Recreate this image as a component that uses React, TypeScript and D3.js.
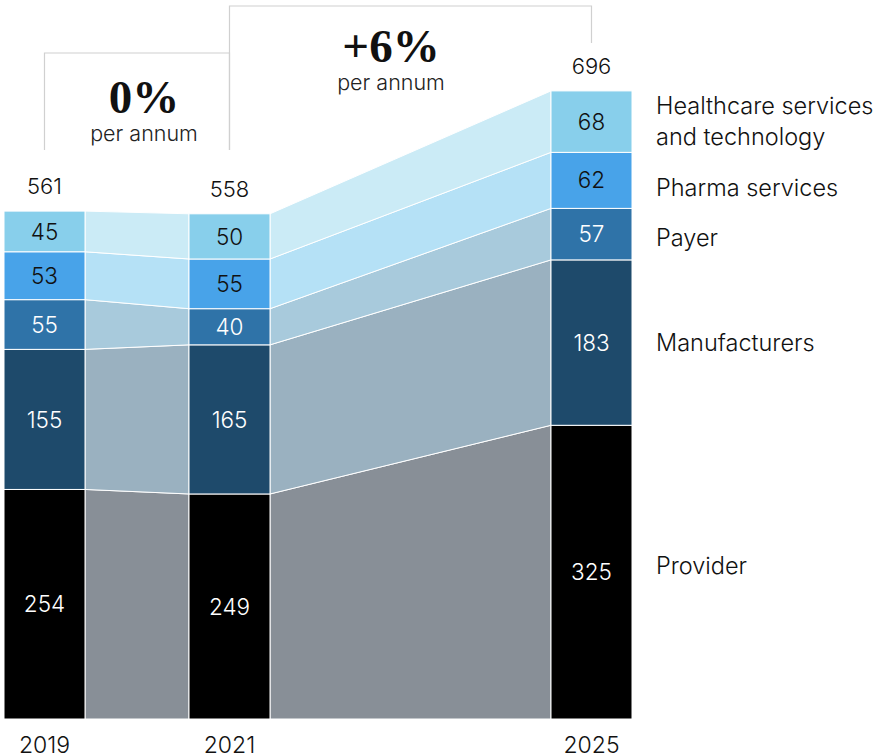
import React from 'react';
import * as d3 from 'd3';

const years = [2019, 2021, 2025];
const segments = ['Provider', 'Manufacturers', 'Payer', 'Pharma services', 'Healthcare services and technology'];
const provider = [254, 249, 325];
const manufacturers = [155, 165, 183];
const payer = [55, 40, 57];
const pharma = [53, 55, 62];
const healthcare = [45, 50, 68];
const totals = [561, 558, 696];
const growth = [
  { from: 2019, to: 2021, label: '0%' },
  { from: 2021, to: 2025, label: '+6%' },
];

const barColors = ['#000000', '#1e4a6b', '#2f73a8', '#48a3e9', '#88cfeb'];
const bandColors = ['#888f97', '#9ab1c0', '#a8cadc', '#b5e1f6', '#cbebf6'];
const labelColors = ['#fff', '#fff', '#fff', '#111', '#111'];
const legendLines = [['Provider'], ['Manufacturers'], ['Payer'], ['Pharma services'], ['Healthcare services', 'and technology']];

const W = 884;
const H = 756;
const barW = 81;
const sans = 'Inter, "Liberation Sans", Arial, sans-serif';
const serif = '"Liberation Serif", "DejaVu Serif", serif';

// small manual nudges so labels sit where the original puts them
const legendNudge = [-7, 0, 3, 7, -1];
const growthText = [
  { cx: 144, big: 113, small: 141 },
  { cx: 391, big: 62, small: 90 },
];

export default function App() {
  const series = [provider, manufacturers, payer, pharma, healthcare];
  const rows = years.map((yr, i) => {
    const r: any = { year: yr };
    segments.forEach((s, k) => (r[s] = series[k][i]));
    return r;
  });
  const stacked = d3.stack().keys(segments)(rows);

  const x = d3.scaleLinear().domain(years).range([4, 189, 551]);
  const y = d3.scaleLinear().domain([0, 696]).range([719, 90]);

  const band = d3
    .area<any>()
    .x((d) => d.x)
    .y0((d) => y(d.y0))
    .y1((d) => y(d.y1));

  const bracketTop = [53, 6];
  const bracketBottom = [[150, 150], [150, 43]];

  return (
    <svg width={W} height={H} style={{ position: 'absolute', left: 0, top: 0 }} fontFamily={sans}>
      {/* bands between bars */}
      {stacked.map((layer, k) =>
        years.slice(0, -1).map((yr, i) => {
          const a = layer[i];
          const b = layer[i + 1];
          const pts = [
            { x: x(yr) + barW, y0: a[0], y1: a[1] },
            { x: x(years[i + 1]), y0: b[0], y1: b[1] },
          ];
          return (
            <path key={`band-${k}-${i}`} d={band(pts) || ''} fill={bandColors[k]} stroke="#fff" strokeWidth={1} />
          );
        })
      )}
      {/* bars */}
      {stacked.map((layer, k) =>
        layer.map((d, i) => (
          <g key={`bar-${k}-${i}`}>
            <rect
              x={x(years[i])}
              y={y(d[1])}
              width={barW}
              height={y(d[0]) - y(d[1])}
              fill={barColors[k]}
              stroke="#fff"
              strokeWidth={1}
            />
            <text
              x={x(years[i]) + barW / 2}
              y={(y(d[0]) + y(d[1])) / 2}
              dy="0.36em"
              textAnchor="middle"
              fontSize={22.5}
              fontWeight={300}
              fill={labelColors[k]}
            >
              {d[1] - d[0]}
            </text>
          </g>
        ))
      )}
      {/* totals */}
      {years.map((yr, i) => (
        <text
          key={`tot-${yr}`}
          x={x(yr) + barW / 2}
          y={y(d3.sum(series, (s) => s[i])) - 17}
          textAnchor="middle"
          fontSize={22}
          fontWeight={300}
          fill="#111"
        >
          {totals[i]}
        </text>
      ))}
      {/* year labels */}
      {years.map((yr) => (
        <text key={`yr-${yr}`} x={x(yr) + barW / 2} y={753} textAnchor="middle" fontSize={23} fontWeight={300} fill="#111">
          {yr}
        </text>
      ))}
      {/* growth brackets */}
      {growth.map((g, i) => {
        const x0 = x(g.from) + barW / 2;
        const x1 = x(g.to) + barW / 2;
        const top = bracketTop[i];
        const path = d3.path();
        path.moveTo(x0, bracketBottom[i][0]);
        path.lineTo(x0, top);
        path.lineTo(x1, top);
        path.lineTo(x1, bracketBottom[i][1]);
        const t = growthText[i];
        return (
          <g key={`gr-${i}`}>
            <path d={path.toString()} fill="none" stroke="#d0d0d0" strokeWidth={1.2} />
            <text x={t.cx} y={t.big} textAnchor="middle" fontFamily={serif} fontWeight={700} fontSize={47} fill="#111">
              {g.label}
            </text>
            <text x={t.cx} y={t.small} textAnchor="middle" fontSize={21.5} fontWeight={300} fill="#222">
              per annum
            </text>
          </g>
        );
      })}
      {/* legend on the right */}
      {stacked.map((layer, k) => {
        const d = layer[layer.length - 1];
        const cy = (y(d[0]) + y(d[1])) / 2 + legendNudge[k];
        const lines = legendLines[k];
        return (
          <text key={`lg-${k}`} x={656} y={cy} fontSize={23.5} fontWeight={300} fill="#111">
            {lines.map((ln, j) => (
              <tspan key={j} x={656} dy={j === 0 ? `${0.36 - (lines.length - 1) * 0.66}em` : '1.32em'}>
                {ln}
              </tspan>
            ))}
          </text>
        );
      })}
    </svg>
  );
}
